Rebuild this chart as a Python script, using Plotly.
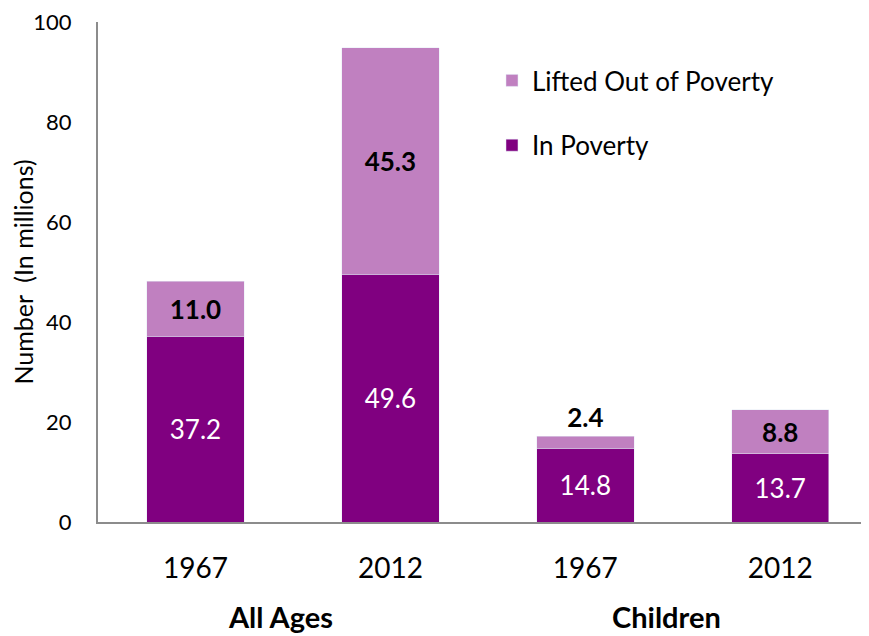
import plotly.graph_objects as go

years = ["1967", "2012", "1967", "2012"]
groups = ["All Ages", "Children"]
in_poverty = [37.2, 49.6, 14.8, 13.7]
lifted_out = [11.0, 45.3, 2.4, 8.8]
y_ticks = [0, 20, 40, 60, 80, 100]

pos = list(range(len(years)))
FONT = "Lato"
DARK = "#800080"
LIGHT = "#C080C0"

fig = go.Figure()
fig.add_trace(go.Bar(
    x=pos, y=in_poverty, name="In Poverty", marker_color=DARK, width=0.5,
    text=[f"{v:.1f}" for v in in_poverty], textposition="inside",
    insidetextanchor="middle", textangle=0, constraintext="none",
    textfont=dict(family=FONT, size=26, color="white"),
    legendgroup="a", legendrank=2, cliponaxis=False,
))
fig.add_trace(go.Bar(
    x=pos, y=lifted_out, name="Lifted Out of Poverty", marker_color=LIGHT, width=0.5,
    text=[f"<b>{v:.1f}</b>" for v in lifted_out],
    textposition=["inside", "inside", "outside", "inside"],
    insidetextanchor="middle", textangle=0, constraintext="none",
    textfont=dict(family=FONT, size=26, color="black"),
    outsidetextfont=dict(family=FONT, size=26, color="black"),
    legendgroup="b", legendrank=1, cliponaxis=False,
))

group_pos = [0.438, 2.418]
for g, p in zip(groups, group_pos):
    fig.add_annotation(x=p, xref="x", y=-0.188, yref="paper", text=f"<b>{g}</b>",
                       showarrow=False, yanchor="middle", xanchor="center",
                       font=dict(family=FONT, size=29, color="black"))

fig.update_layout(
    width=861, height=628, barmode="stack",
    margin=dict(l=90, r=3, t=14, b=114, autoexpand=False),
    paper_bgcolor="white", plot_bgcolor="white",
    font=dict(family=FONT, size=26, color="black"),
    showlegend=True,
    legend=dict(x=0.513, y=0.93, xanchor="left", yanchor="top",
                traceorder="grouped", tracegroupgap=28,
                font=dict(family=FONT, size=26, color="black"),
                bgcolor="rgba(0,0,0,0)", itemwidth=30),
    xaxis=dict(range=[-0.5, 3.44], tickvals=pos, ticktext=years, showgrid=False,
               showline=True, linecolor="#8c8c8c", linewidth=2, ticks="",
               ticklabelstandoff=20, zeroline=False, automargin=False,
               tickfont=dict(family=FONT, size=28, color="black")),
    yaxis=dict(range=[0, 100], tickvals=y_ticks, showgrid=False,
               showline=True, linecolor="#8c8c8c", linewidth=2, ticks="",
               ticklabelstandoff=20, zeroline=False, ticklabeloverflow="allow",
               automargin=False,
               tickfont=dict(family=FONT, size=22, color="black"),
               title=dict(text="Number  (In millions)", standoff=8,
                          font=dict(family=FONT, size=25, color="black"))),
)

fig.write_html("out.html")
